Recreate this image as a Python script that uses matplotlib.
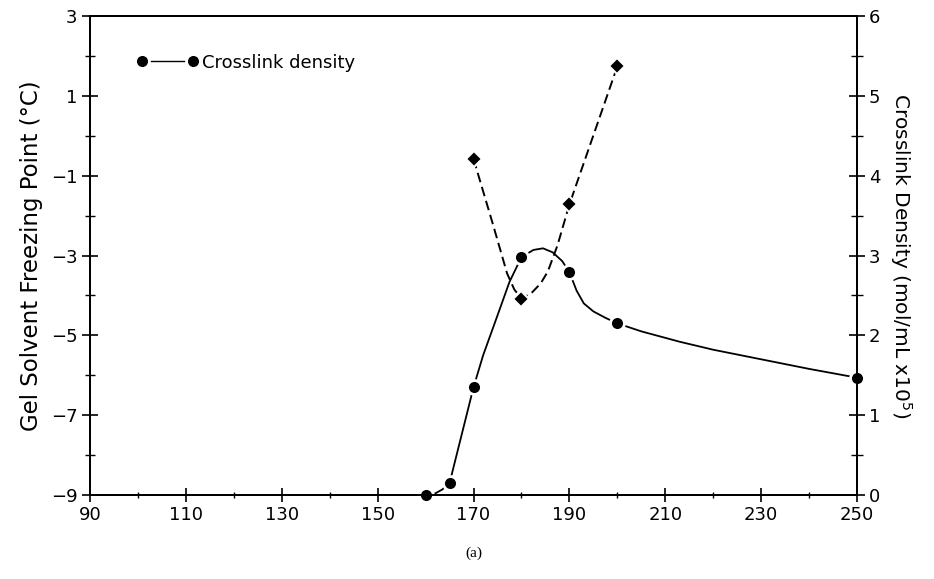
"""
Gel solvent freezing point and crosslink density vs cure temperature.
"""
import matplotlib.pyplot as plt
from matplotlib.lines import Line2D
from matplotlib.ticker import MultipleLocator

# measured points
temp_xl = [160, 165, 170, 180, 190, 200, 250]
crosslink = [0.0, 0.15, 1.35, 2.98, 2.79, 2.15, 1.47]

temp_fp = [170, 180, 190, 200]
freeze_pt = [-0.58, -4.08, -1.72, 1.74]

# smooth curves
xl_curve_t = [160, 162, 163.5, 165, 167, 170, 172, 175, 177.5, 180, 182.5, 184.5,
              186.5, 188.5, 190, 191.5, 193, 195, 197.5, 200, 205, 213, 220, 230, 240, 250]
xl_curve = [0.0, 0.02, 0.07, 0.15, 0.63, 1.35, 1.75, 2.25, 2.67, 2.98, 3.07, 3.09,
            3.04, 2.93, 2.79, 2.56, 2.40, 2.30, 2.22, 2.15, 2.05, 1.92, 1.82, 1.70, 1.58, 1.47]

fp_curve_t = [170, 174, 177, 178.5, 180, 182, 184, 185.5, 187.5, 190, 200]
fp_curve = [-0.58, -2.2, -3.45, -3.85, -4.08, -3.95, -3.7, -3.4, -2.75, -1.72, 1.74]

x_ticks = list(range(90, 251, 20))
left_ticks = [-9, -7, -5, -3, -1, 1, 3]

plt.rcParams['font.family'] = ['DejaVu Sans']
plt.rcParams['font.size'] = 13

fig = plt.figure(figsize=(9.34, 5.79), dpi=100)
ax = fig.add_axes([0.0964, 0.145, 0.8212, 0.8274])
ax2 = ax.twinx()

# dashed freezing point curve (left axis)
ax.plot(fp_curve_t, fp_curve, color='black', lw=1.4, dashes=(5, 2.5))
ax.plot(temp_fp, freeze_pt, ls='none', marker='D', ms=8, color='black',
        mec='white', mew=1.5)

# solid crosslink density curve (right axis)
ax2.plot(xl_curve_t, xl_curve, color='black', lw=1.3)
ax2.plot(temp_xl, crosslink, ls='none', marker='o', ms=10, color='black',
         mec='white', mew=2, clip_on=False)

ax.set_xlim(90, 250)
ax.set_ylim(-9, 3)
ax2.set_ylim(0, 6)

ax.set_xticks(x_ticks)
ax.xaxis.set_minor_locator(MultipleLocator(10))
ax.set_yticks(left_ticks)
ax.yaxis.set_minor_locator(MultipleLocator(1))
ax2.yaxis.set_major_locator(MultipleLocator(1))
ax2.yaxis.set_minor_locator(MultipleLocator(0.5))

ax.tick_params(axis='x', which='major', direction='inout', length=9.5, width=1.2, pad=3)
ax.tick_params(axis='x', which='minor', direction='inout', length=5, width=1.0)
ax.tick_params(axis='y', which='major', direction='inout', length=12, width=1.2, pad=3)
ax.tick_params(axis='y', which='minor', direction='inout', length=7, width=1.0)
ax2.tick_params(axis='y', which='major', direction='inout', length=11, width=1.2, pad=3)
ax2.tick_params(axis='y', which='minor', direction='inout', length=9, width=1.0)

for a in (ax, ax2):
    for s in a.spines.values():
        s.set_linewidth(1.4)

ax.set_ylabel('Gel Solvent Freezing Point (\u00b0C)', fontsize=16.5, labelpad=6)
ax2.set_ylabel('Crosslink Density (mol/mL x10$^5$)', fontsize=14.5, rotation=270, labelpad=24)

handle = Line2D([], [], color='black', lw=1.0, marker='o', ms=10, mec='white', mew=2)
ax2.legend([handle], ['Crosslink density'], loc='upper left', bbox_to_anchor=(0.04, 0.955),
           frameon=False, numpoints=2, handlelength=3.4, handletextpad=0.2, fontsize=13)

fig.text(0.507, 0.045, '(a)', ha='center', va='center', family='Liberation Serif', fontsize=11)

plt.savefig('out.png', dpi=100)
